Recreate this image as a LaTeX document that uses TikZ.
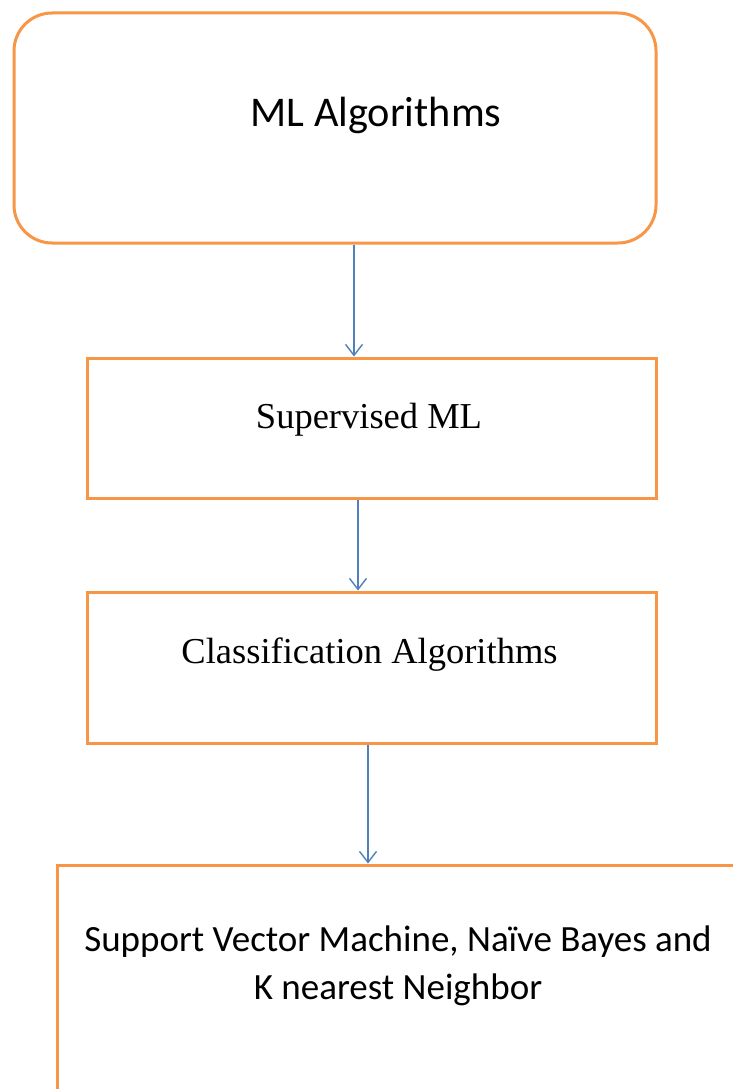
\documentclass[tikz,border=0pt]{standalone}
\usepackage{fontspec}
\setmainfont{Liberation Serif}
\newfontfamily\calibri{Carlito}
\usepackage{tikz}
\usetikzlibrary{shapes,arrows.meta,positioning,calc}
\definecolor{boxorange}{HTML}{F79646}
\definecolor{arrowblue}{HTML}{4F81BD}
\tikzstyle{rbox} = [draw=boxorange, line width=3pt, rounded corners=38pt, inner sep=0pt]
\tikzstyle{sbox} = [draw=boxorange, line width=3pt, inner sep=0pt]
\tikzstyle{line} = [draw=arrowblue, line width=1.4pt, -{Straight Barb[length=11pt, width=17pt, line width=1.4pt]}]

\begin{document}
\begin{tikzpicture}[x=1pt, y=-1pt]
			\clip (0, 0) rectangle (733, 1089);
			\fill [white] (0, 0) rectangle (733, 1089);

			\node [rbox, minimum width=642pt, minimum height=230pt] (ml) at (335, 128) {};
			\node [sbox, minimum width=569pt, minimum height=140pt] (sup) at (371.5, 428) {};
			\node [sbox, minimum width=569pt, minimum height=151pt] (cls) at (371.5, 667.5) {};
			\node [sbox, minimum width=720pt, minimum height=260pt] (alg) at (417, 995) {};

			\node [anchor=base, font=\calibri\fontsize{42.3}{50}\selectfont] (mltext) at (376, 127) {ML Algorithms};
			\node [anchor=base, font=\fontsize{36.5}{44}\selectfont] (suptext) at (369, 428) {Supervised ML};
			\node [anchor=base, font=\fontsize{36.5}{44}\selectfont] (clstext) at (369.5, 663) {Classification Algorithms};
			\node [align=center, font=\calibri\fontsize{37}{48}\selectfont] (algtext) at (398, 966) {Support Vector Machine, Na\"ive Bayes and\\K nearest Neighbor};

			\path [line] ([xshift=19pt]ml.south) -- ([xshift=19pt]ml.south |- sup.north);
			\path [line] ([xshift=-13.5pt]sup.south) -- ([xshift=-13.5pt]sup.south |- cls.north);
			\path [line] ([xshift=-3.5pt]cls.south) -- ([xshift=-3.5pt]cls.south |- alg.north);
		\end{tikzpicture}
\end{document}
